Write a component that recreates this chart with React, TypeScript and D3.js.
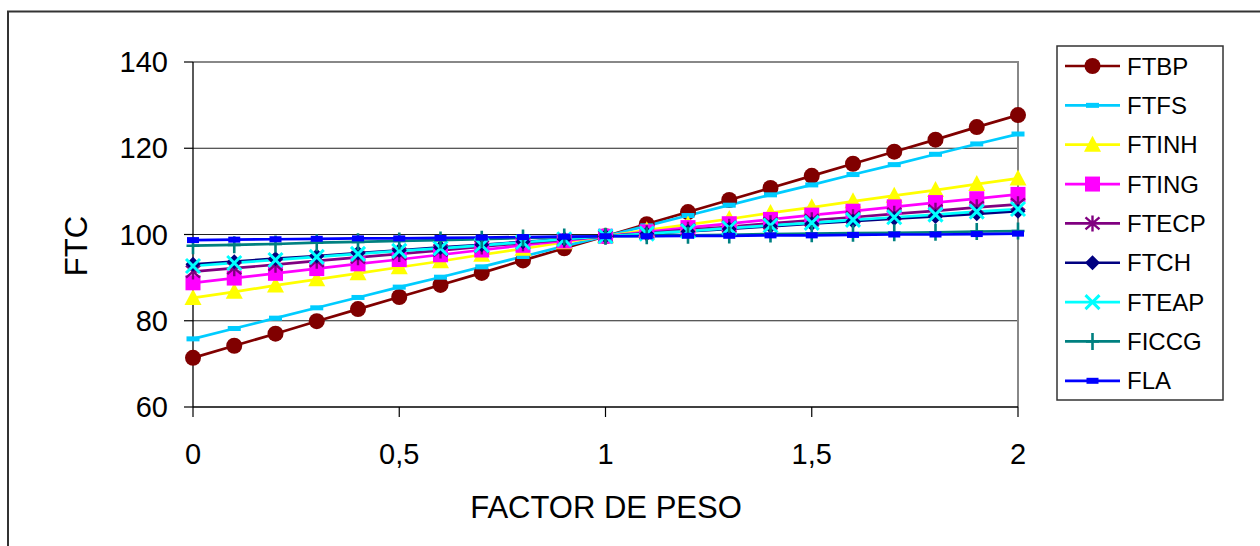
import React from "react";
import * as d3 from "d3";

const xValues = [0, 0.1, 0.2, 0.3, 0.4, 0.5, 0.6, 0.7, 0.8, 0.9, 1, 1.1, 1.2, 1.3, 1.4, 1.5, 1.6, 1.7, 1.8, 1.9, 2];
const xTicks = [0, 0.5, 1, 1.5, 2];
const xTickLabels = ["0", "0,5", "1", "1,5", "2"];
const yTicks = [60, 80, 100, 120, 140];

const FTBP = [71.4, 74.2, 77.0, 79.9, 82.7, 85.5, 88.3, 91.1, 94.0, 96.8, 99.6, 102.4, 105.2, 108.0, 110.8, 113.6, 116.4, 119.2, 122.0, 124.9, 127.7];
const FTFS = [75.8, 78.2, 80.6, 83.0, 85.4, 87.8, 90.1, 92.5, 94.9, 97.3, 99.6, 102.0, 104.4, 106.8, 109.2, 111.5, 113.9, 116.2, 118.6, 121.0, 123.3];
const FTINH = [85.3, 86.7, 88.2, 89.6, 91.0, 92.4, 93.8, 95.3, 96.7, 98.2, 99.6, 101.0, 102.3, 103.6, 105.0, 106.3, 107.7, 109.0, 110.3, 111.7, 113.0];
const FTING = [88.8, 89.9, 91.0, 92.1, 93.2, 94.2, 95.3, 96.4, 97.5, 98.5, 99.6, 100.6, 101.6, 102.5, 103.5, 104.5, 105.4, 106.4, 107.4, 108.3, 109.3];
const FTECP = [91.4, 92.2, 93.0, 93.9, 94.7, 95.5, 96.3, 97.2, 98.0, 98.8, 99.6, 100.3, 101.1, 101.8, 102.6, 103.3, 104.0, 104.8, 105.5, 106.3, 107.0];
const FTCH = [93.1, 93.7, 94.4, 95.0, 95.7, 96.3, 97.0, 97.6, 98.3, 98.9, 99.6, 100.2, 100.7, 101.3, 101.9, 102.5, 103.1, 103.7, 104.2, 104.8, 105.4];
const FTEAP = [92.7, 93.4, 94.1, 94.8, 95.5, 96.2, 96.8, 97.5, 98.2, 98.9, 99.6, 100.2, 100.8, 101.5, 102.1, 102.7, 103.4, 104.0, 104.6, 105.3, 105.9];
const FICCG = [97.4, 97.6, 97.8, 98.1, 98.3, 98.5, 98.7, 98.9, 99.2, 99.4, 99.6, 99.7, 99.8, 99.9, 100.1, 100.2, 100.3, 100.4, 100.5, 100.7, 100.8];
const FLA = [98.7, 98.8, 98.9, 99.0, 99.1, 99.1, 99.2, 99.3, 99.4, 99.5, 99.6, 99.6, 99.7, 99.7, 99.8, 99.8, 99.9, 100.0, 100.0, 100.1, 100.2];

const seriesNames = ["FTBP", "FTFS", "FTINH", "FTING", "FTECP", "FTCH", "FTEAP", "FICCG", "FLA"];
const seriesData = [FTBP, FTFS, FTINH, FTING, FTECP, FTCH, FTEAP, FICCG, FLA];
const seriesColors = ["#800000", "#00CCFF", "#FFFF00", "#FF00FF", "#800080", "#000080", "#00FFFF", "#008080", "#0000FF"];
const seriesMarkers = ["circle", "dash", "triangle", "square", "asterisk", "diamond", "x", "plus", "dash2"];

const FONT = "'Liberation Sans', Arial, Helvetica, sans-serif";

function Marker({ type, color, x, y }: { type: string; color: string; x: number; y: number }) {
  const t = `translate(${x},${y})`;
  switch (type) {
    case "circle":
      return <circle cx={x} cy={y} r={8} fill={color} />;
    case "dash":
      return <rect x={x - 6.5} y={y - 2.5} width={13} height={5} fill={color} />;
    case "dash2":
      return <rect x={x - 6} y={y - 3} width={12} height={6} fill={color} />;
    case "triangle":
      return <path transform={t} d="M0,-9L8.5,7L-8.5,7Z" fill={color} />;
    case "square":
      return <rect x={x - 7.5} y={y - 7.5} width={15} height={15} fill={color} />;
    case "diamond":
      return <path transform={t} d="M0,-7.5L7.5,0L0,7.5L-7.5,0Z" fill={color} />;
    case "asterisk":
      return (
        <path transform={t} d="M0,-8V8M-7,-6L7,6M-7,6L7,-6" stroke={color} strokeWidth={2.4} fill="none" />
      );
    case "x":
      return <path transform={t} d="M-7,-7L7,7M-7,7L7,-7" stroke={color} strokeWidth={3} fill="none" />;
    case "plus":
      return <path transform={t} d="M0,-8.5V8.5M-6.5,0H6.5" stroke={color} strokeWidth={2.6} fill="none" />;
    default:
      return null;
  }
}

export default function App() {
  const W = 1260;
  const H = 546;
  const left = 193;
  const right = 1018;
  const top = 62;
  const bottom = 407;

  const x = d3.scaleLinear().domain([0, 2]).range([left, right]);
  const y = d3.scaleLinear().domain([60, 140]).range([bottom, top]);

  const line = d3
    .line<number>()
    .x((_, i) => x(xValues[i]))
    .y((d) => y(d));

  const legendX = 1057;
  const legendY = 46;
  const legendW = 166;
  const legendH = 354;
  const legendRowY = (i: number) => 66 + i * 39.35;

  return (
    <svg
      width={W}
      height={H}
      style={{ position: "absolute", left: 0, top: 0, background: "#fff" }}
      fontFamily={FONT}
    >
      <rect x={0} y={0} width={W} height={H} fill="#fff" />
      {/* outer chart border */}
      <rect x={8} y={11.5} width={1400} height={700} fill="none" stroke="#333" strokeWidth={2} />

      {/* gridlines */}
      {yTicks
        .filter((v) => v !== 60 && v !== 140)
        .map((v) => (
          <line key={v} x1={left} x2={right} y1={y(v)} y2={y(v)} stroke="#222" strokeWidth={1} />
        ))}
      {/* plot area border (top/right gray) */}
      <path d={`M${left},${top}H${right}V${bottom}`} fill="none" stroke="#888" strokeWidth={2} />

      {/* axes */}
      <line x1={left} x2={left} y1={top} y2={bottom} stroke="#000" strokeWidth={1.3} />
      <line x1={left} x2={right} y1={bottom} y2={bottom} stroke="#000" strokeWidth={1.3} />
      {yTicks.map((v) => (
        <g key={v}>
          <line x1={left - 9} x2={left} y1={y(v)} y2={y(v)} stroke="#000" strokeWidth={1.2} />
          <text x={168} y={y(v) + 10} textAnchor="end" fontSize={29} fill="#000">
            {v}
          </text>
        </g>
      ))}
      {xTicks.map((v, i) => (
        <g key={v}>
          <line x1={x(v)} x2={x(v)} y1={bottom} y2={bottom + 10} stroke="#000" strokeWidth={1.2} />
          <text x={x(v)} y={464} textAnchor="middle" fontSize={29} fill="#000">
            {xTickLabels[i]}
          </text>
        </g>
      ))}

      {/* axis titles */}
      <text x={606} y={518} textAnchor="middle" fontSize={31} fill="#000">
        FACTOR DE PESO
      </text>
      <text
        transform={`translate(87,246) rotate(-90)`}
        textAnchor="middle"
        fontSize={31}
        fill="#000"
      >
        FTC
      </text>

      {/* series lines */}
      {seriesData.map((data, si) => (
        <path key={"l" + si} d={line(data) || ""} fill="none" stroke={seriesColors[si]} strokeWidth={2.7} />
      ))}
      {/* markers */}
      {seriesData.map((data, si) => (
        <g key={"m" + si}>
          {data.map((d, i) => (
            <Marker key={i} type={seriesMarkers[si]} color={seriesColors[si]} x={x(xValues[i])} y={y(d)} />
          ))}
        </g>
      ))}

      {/* legend */}
      <rect x={legendX} y={legendY} width={legendW} height={legendH} fill="#fff" stroke="#333" strokeWidth={1.5} />
      {seriesNames.map((name, i) => {
        const ry = legendRowY(i);
        return (
          <g key={name}>
            <line x1={1065} x2={1120} y1={ry} y2={ry} stroke={seriesColors[i]} strokeWidth={2.7} />
            <Marker type={seriesMarkers[i]} color={seriesColors[i]} x={1092.5} y={ry} />
            <text x={1127} y={ry + 8.5} fontSize={24} fill="#000">
              {name}
            </text>
          </g>
        );
      })}
    </svg>
  );
}
